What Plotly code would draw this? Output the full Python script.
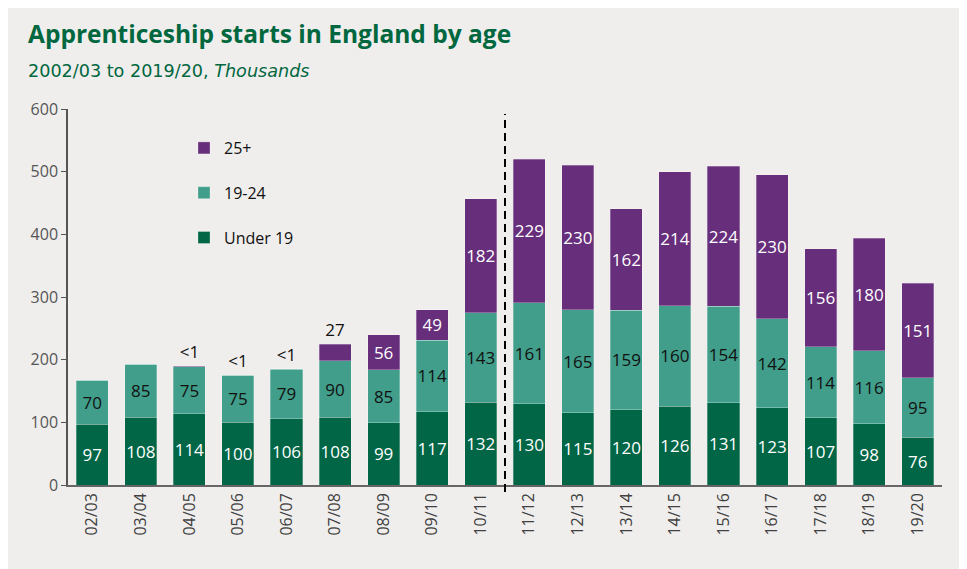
import plotly.graph_objects as go

years = ["02/03", "03/04", "04/05", "05/06", "06/07", "07/08", "08/09", "09/10", "10/11",
         "11/12", "12/13", "13/14", "14/15", "15/16", "16/17", "17/18", "18/19", "19/20"]
under19 = [97, 108, 114, 100, 106, 108, 99, 117, 132, 130, 115, 120, 126, 131, 123, 107, 98, 76]
age19_24 = [70, 85, 75, 75, 79, 90, 85, 114, 143, 161, 165, 159, 160, 154, 142, 114, 116, 95]
age25plus = [0, 0, 0.4, 0.4, 0.4, 27, 56, 49, 182, 229, 230, 162, 214, 224, 230, 156, 180, 151]
labels25 = ["", "", "<1", "<1", "<1", "27", "56", "49", "182", "229", "230", "162", "214", "224", "230", "156", "180", "151"]

OFF = 8  # default body margin of the html page
W, H = 967 - OFF, 569 - OFF
ML, MR, MT, MB = 68 - OFF, 25, 109 - OFF, 84
PW, PH = W - ML - MR, H - MT - MB

def px_x(p):
    return (p - OFF - ML) / PW

def px_y(p):
    return (H - MB - (p - OFF)) / PH

C_U19 = "#006646"
C_1924 = "#409e8a"
C_25 = "#672e7b"
BG = "#efeeec"
FONT = "Open Sans, Noto Sans, sans-serif"

outline = dict(color="rgba(255,255,255,0.35)", width=0.8)

fig = go.Figure()
fig.add_trace(go.Bar(
    x=years, y=under19, name="Under 19", marker=dict(color=C_U19, line=outline),
    text=[str(v) for v in under19], textposition="inside", insidetextanchor="middle",
    textangle=0, textfont=dict(color="white", size=17, family=FONT),
    legendgroup="a", legendrank=3,
))
fig.add_trace(go.Bar(
    x=years, y=age19_24, name="19-24", marker=dict(color=C_1924, line=outline),
    text=[str(v) for v in age19_24], textposition="inside", insidetextanchor="middle",
    textangle=0, textfont=dict(color="#111111", size=17, family=FONT),
    legendgroup="b", legendrank=2,
))
pos25 = ["inside" if v >= 40 else "outside" for v in age25plus]
fig.add_trace(go.Bar(
    x=years, y=age25plus, name="25+", marker=dict(color=C_25, line=outline),
    text=labels25, textposition=pos25, insidetextanchor="middle", textangle=0,
    insidetextfont=dict(color="white", size=17, family=FONT),
    outsidetextfont=dict(color="#111111", size=17, family=FONT),
    textfont=dict(size=17, family=FONT), cliponaxis=False,
    legendgroup="c", legendrank=1,
))

shapes = [
    dict(type="line", xref="x", yref="paper", x0=8.5, x1=8.5,
         y0=px_y(492), y1=px_y(114),
         line=dict(color="black", width=2, dash="8px,5px")),
]

fig.update_layout(
    width=W, height=H,
    margin=dict(l=ML, r=MR, t=MT, b=MB),
    paper_bgcolor=BG, plot_bgcolor=BG,
    barmode="stack", bargap=0.34,
    uniformtext=dict(minsize=17, mode="show"),
    font=dict(family=FONT, color="#404040", size=16),
    showlegend=True,
    legend=dict(x=px_x(184), y=px_y(131), xanchor="left", yanchor="top",
                traceorder="grouped", tracegroupgap=21,
                bgcolor="rgba(0,0,0,0)",
                font=dict(size=16, color="#111111", family=FONT)),
    shapes=shapes,
    annotations=[
        dict(text="<b>Apprenticeship starts in England by age</b>", xref="paper", yref="paper",
             x=px_x(26), y=px_y(15), xanchor="left", yanchor="top", showarrow=False,
             font=dict(size=24.5, color="#00673f", family=FONT)),
        dict(text="2002/03 to 2019/20, <i>Thousands</i>", xref="paper", yref="paper",
             x=px_x(26), y=px_y(59), xanchor="left", yanchor="top", showarrow=False,
             font=dict(size=17.6, color="#00673f", family="DejaVu Sans, sans-serif")),
    ],
)
fig.update_xaxes(
    type="category", showline=True, linecolor="#666666", linewidth=1.5,
    tickangle=-90, ticks="", tickfont=dict(size=16, color="#404040"),
    showgrid=False, range=[-0.5, 17.5],
)
fig.update_yaxes(
    range=[0, 600], dtick=100, showline=True, linecolor="#555555", linewidth=1.5,
    ticks="outside", ticklen=5, tickcolor="#555555", showgrid=False, zeroline=False,
    tickfont=dict(size=16, color="#555555"),
)

fig.write_html("out.html")
